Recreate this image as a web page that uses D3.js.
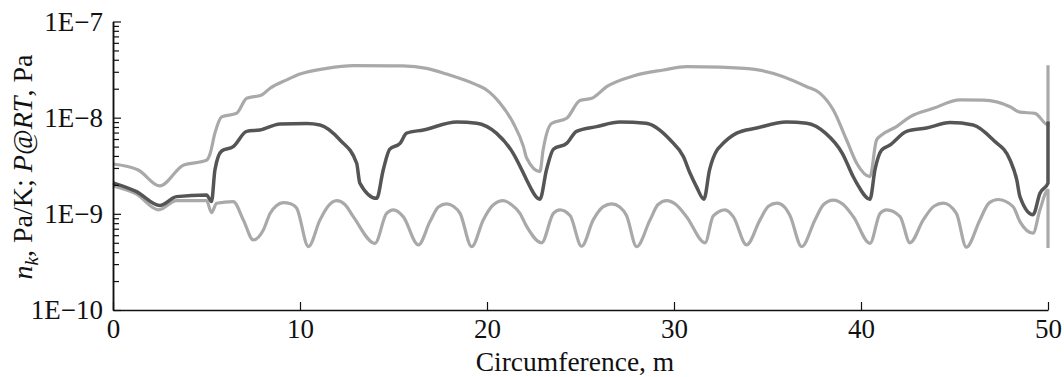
<!DOCTYPE html>
<html>
<head>
<meta charset="utf-8">
<script src="https://cdn.jsdelivr.net/npm/d3@7"></script>
<style>
  body { margin: 0; background: #fff; }
  svg text { font-family: "Liberation Serif", "Times New Roman", serif; fill: #111; }
</style>
</head>
<body>
<div id="chart"></div>
<script>
// values: [circumference (m), value]
const upperLight = [
  [0, 3.3e-9], [1.35, 2.86e-9], [2.5, 1.95e-9], [3.76, 3.2e-9], [5.0, 3.6e-9], [5.19, 4.2e-9],
  [5.45, 6.9e-9], [5.81, 1.02e-8], [6.61, 1.11e-8], [7.15, 1.59e-8], [7.95, 1.72e-8], [8.4, 2.02e-8],
  [9.29, 2.47e-8], [10.0, 2.84e-8], [11.43, 3.26e-8], [12.85, 3.47e-8], [15.5, 3.45e-8], [16.77, 3.26e-8],
  [17.84, 2.84e-8], [19.45, 2.19e-8], [19.98, 1.94e-8], [20.7, 1.41e-8], [21.41, 8.75e-9], [21.95, 5.0e-9],
  [22.12, 3.8e-9], [22.83, 2.75e-9], [23.0, 4.6e-9], [23.45, 8.7e-9], [24.26, 9.86e-9], [24.97, 1.51e-8],
  [25.6, 1.59e-8], [26.4, 2.1e-8], [27.82, 2.71e-8], [29.43, 3.13e-8], [30.67, 3.39e-8], [32.46, 3.35e-8],
  [34.33, 3.18e-8], [35.85, 2.67e-8], [37.1, 2.1e-8], [37.8, 1.8e-8], [38.52, 1.2e-8], [39.23, 5.86e-9],
  [39.77, 3.36e-9], [40.48, 2.44e-9], [40.83, 5.86e-9], [41.1, 6.6e-9], [41.9, 8.07e-9], [42.62, 1.02e-8],
  [43.87, 1.25e-8], [45.3, 1.53e-8], [46.54, 1.52e-8], [47.97, 1.3e-8], [48.5, 1.14e-8], [49.3, 1.11e-8],
  [50, 8.4e-9], [50, 3.5e-8]
];

const darkLine = [
  [0, 2.1e-9], [1.26, 1.7e-9], [2.5, 1.22e-9], [3.4, 1.51e-9], [5.0, 1.57e-9], [5.27, 1.34e-9],
  [5.45, 2.86e-9], [5.81, 4.5e-9], [6.43, 5.0e-9], [7.15, 7.2e-9], [7.86, 7.45e-9], [8.93, 8.6e-9],
  [10.36, 8.7e-9], [11.07, 8.4e-9], [12.14, 5.86e-9], [13.03, 3.36e-9], [13.2, 2.09e-9], [14.1, 1.45e-9],
  [14.45, 2.86e-9], [14.8, 4.7e-9], [15.35, 5.4e-9], [15.7, 6.9e-9], [16.6, 7.45e-9], [18.38, 9.0e-9],
  [19.45, 8.75e-9], [20.5, 6.9e-9], [21.4, 4.26e-9], [21.95, 2.64e-9], [22.12, 2.25e-9], [22.83, 1.42e-9],
  [23.18, 2.86e-9], [23.55, 4.7e-9], [24.26, 5.4e-9], [24.79, 7.2e-9], [25.86, 8.07e-9], [27.11, 9.0e-9],
  [28.5, 8.75e-9], [29.8, 5.86e-9], [30.5, 3.94e-9], [30.86, 2.64e-9], [31.2, 1.92e-9], [31.6, 1.42e-9],
  [31.9, 2.86e-9], [32.3, 4.6e-9], [32.46, 5.0e-9], [33.35, 6.9e-9], [34.42, 7.8e-9], [36.0, 9.0e-9],
  [37.1, 8.75e-9], [38.1, 6.9e-9], [39.0, 4.26e-9], [39.6, 2.4e-9], [39.77, 2.09e-9], [40.48, 1.42e-9],
  [40.75, 2.9e-9], [41.1, 4.6e-9], [41.55, 5.2e-9], [42.44, 7.2e-9], [43.5, 7.8e-9], [44.76, 8.9e-9],
  [46.0, 8.4e-9], [47.07, 5.86e-9], [47.97, 3.63e-9], [48.33, 2.25e-9], [48.5, 1.51e-9], [49.2, 9.8e-10],
  [49.57, 1.64e-9], [50, 2.09e-9], [50, 9.1e-9]
];

const lowerLight = [
  [0, 1.95e-9], [1.26, 1.6e-9], [2.43, 1.1e-9], [3.4, 1.37e-9], [5.0, 1.37e-9], [5.27, 1.03e-9],
  [5.54, 1.29e-9], [6.43, 1.34e-9], [6.97, 8.65e-10], [7.5, 5.36e-10], [8.04, 6.8e-10], [8.4, 1.01e-9],
  [8.75, 1.22e-9], [9.1, 1.31e-9], [9.5, 1.27e-9], [9.82, 1.15e-9], [10.45, 4.56e-10], [11.07, 8.65e-10],
  [11.5, 1.2e-9], [11.96, 1.37e-9], [12.4, 1.25e-9], [12.85, 9.35e-10], [14.01, 4.94e-10], [14.63, 1.01e-9],
  [15.0, 1.1e-9], [15.52, 9.35e-10], [16.33, 4.75e-10], [16.95, 8.3e-10], [17.4, 1.18e-9], [17.84, 1.27e-9],
  [18.2, 1.2e-9], [18.56, 1.01e-9], [19.18, 4.56e-10], [19.8, 8.65e-10], [20.3, 1.22e-9], [20.87, 1.37e-9],
  [21.3, 1.25e-9], [21.76, 1.01e-9], [22.12, 7.4e-10], [22.92, 5.0e-10], [23.55, 1.01e-9], [23.9, 1.1e-9],
  [24.44, 9.6e-10], [25.06, 4.6e-10], [25.68, 8.65e-10], [26.2, 1.18e-9], [26.67, 1.27e-9], [27.1, 1.18e-9],
  [27.46, 9.6e-10], [28.0, 4.56e-10], [28.72, 8.65e-10], [29.15, 1.25e-9], [29.61, 1.37e-9], [30.1, 1.25e-9],
  [30.67, 9.35e-10], [31.66, 5.0e-10], [32.1, 9.5e-10], [32.73, 1.1e-9], [33.17, 9.35e-10], [33.88, 4.75e-10],
  [34.6, 8.65e-10], [35.05, 1.2e-9], [35.5, 1.29e-9], [35.9, 1.18e-9], [36.2, 9.6e-10], [36.83, 4.56e-10],
  [37.54, 8.65e-10], [38.0, 1.25e-9], [38.52, 1.39e-9], [39.05, 1.25e-9], [39.59, 9.35e-10], [40.48, 4.94e-10],
  [41.02, 1.01e-9], [41.37, 1.1e-9], [42.09, 9.35e-10], [42.62, 5.0e-10], [43.33, 8.65e-10], [43.9, 1.2e-9],
  [44.4, 1.29e-9], [45.1, 1.01e-9], [45.63, 4.5e-10], [46.36, 8.65e-10], [46.85, 1.3e-9], [47.34, 1.41e-9],
  [48.13, 1.19e-9], [48.5, 8.3e-10], [49.2, 6.3e-10], [49.57, 1.1e-9], [50, 1.77e-9], [50, 4.4e-10]
];

const xTicks = [0, 10, 20, 30, 40, 50];
const yTicks = [1e-10, 1e-9, 1e-8, 1e-7];
const yTickLabels = ["1E\u221210", "1E\u22129", "1E\u22128", "1E\u22127"];

const width = 1064, height = 377;
const margin = {top: 21.5, right: 16, bottom: 67, left: 113};

const svg = d3.select("#chart").append("svg")
    .attr("width", width)
    .attr("height", height);

const x = d3.scaleLinear()
    .domain([0, 50])
    .range([margin.left, width - margin.right]);

const y = d3.scaleLog()
    .domain([1e-10, 1e-7])
    .range([height - margin.bottom, margin.top]);

// minor ticks of the log axis (2..9 in each decade)
const yMinor = [];
for (let e = -10; e < -7; e++) {
    for (let m = 2; m <= 9; m++) yMinor.push(m * Math.pow(10, e));
}

const line = d3.line()
    .x(d => x(d[0]))
    .y(d => y(d[1]))
    .curve(d3.curveMonotoneX);

svg.append("path").datum(lowerLight)
    .attr("fill", "none").attr("stroke", "#a9a9a9").attr("stroke-width", 3.2)
    .attr("stroke-linejoin", "round")
    .attr("d", line);

svg.append("path").datum(upperLight)
    .attr("fill", "none").attr("stroke", "#a9a9a9").attr("stroke-width", 3.2)
    .attr("stroke-linejoin", "round")
    .attr("d", line);

svg.append("path").datum(darkLine)
    .attr("fill", "none").attr("stroke", "#555").attr("stroke-width", 3.5)
    .attr("stroke-linejoin", "round")
    .attr("d", line);

// axes, ticks pointing inward
svg.append("g")
    .attr("transform", `translate(0,${height - margin.bottom})`)
    .call(d3.axisBottom(x).tickValues(xTicks).tickSizeInner(-8).tickSizeOuter(0).tickPadding(9));

svg.append("g")
    .attr("transform", `translate(${margin.left},0)`)
    .call(d3.axisLeft(y).tickValues(yMinor).tickSizeInner(-6).tickSizeOuter(0).tickFormat(""));

svg.append("g")
    .attr("transform", `translate(${margin.left},0)`)
    .call(d3.axisLeft(y).tickValues(yTicks).tickSizeInner(-8).tickSizeOuter(0).tickPadding(10)
        .tickFormat((d, i) => yTickLabels[i]));

svg.selectAll(".domain").attr("stroke", "#111").attr("stroke-width", 1.5);
svg.selectAll(".tick line").attr("stroke", "#111").attr("stroke-width", 1.2);
svg.selectAll(".tick text")
    .style("font-family", "'Liberation Serif', serif")
    .style("font-size", "27px")
    .attr("fill", "#111");

// axis titles
svg.append("text")
    .attr("x", 575)
    .attr("y", 371)
    .attr("text-anchor", "middle")
    .style("font-size", "27.5px")
    .text("Circumference, m");

const yTitle = svg.append("text")
    .attr("transform", "translate(32,167) rotate(-90)")
    .attr("text-anchor", "middle")
    .style("font-size", "28px");
yTitle.append("tspan").style("font-style", "italic").text("n");
yTitle.append("tspan").style("font-style", "italic").style("font-size", "19px")
    .attr("dy", 6).text("k");
yTitle.append("tspan").attr("dy", -6).text(", Pa/K; ");
yTitle.append("tspan").style("font-style", "italic").text("P");
yTitle.append("tspan").text("@");
yTitle.append("tspan").style("font-style", "italic").text("RT");
yTitle.append("tspan").text(", Pa");
</script>
</body>
</html>
